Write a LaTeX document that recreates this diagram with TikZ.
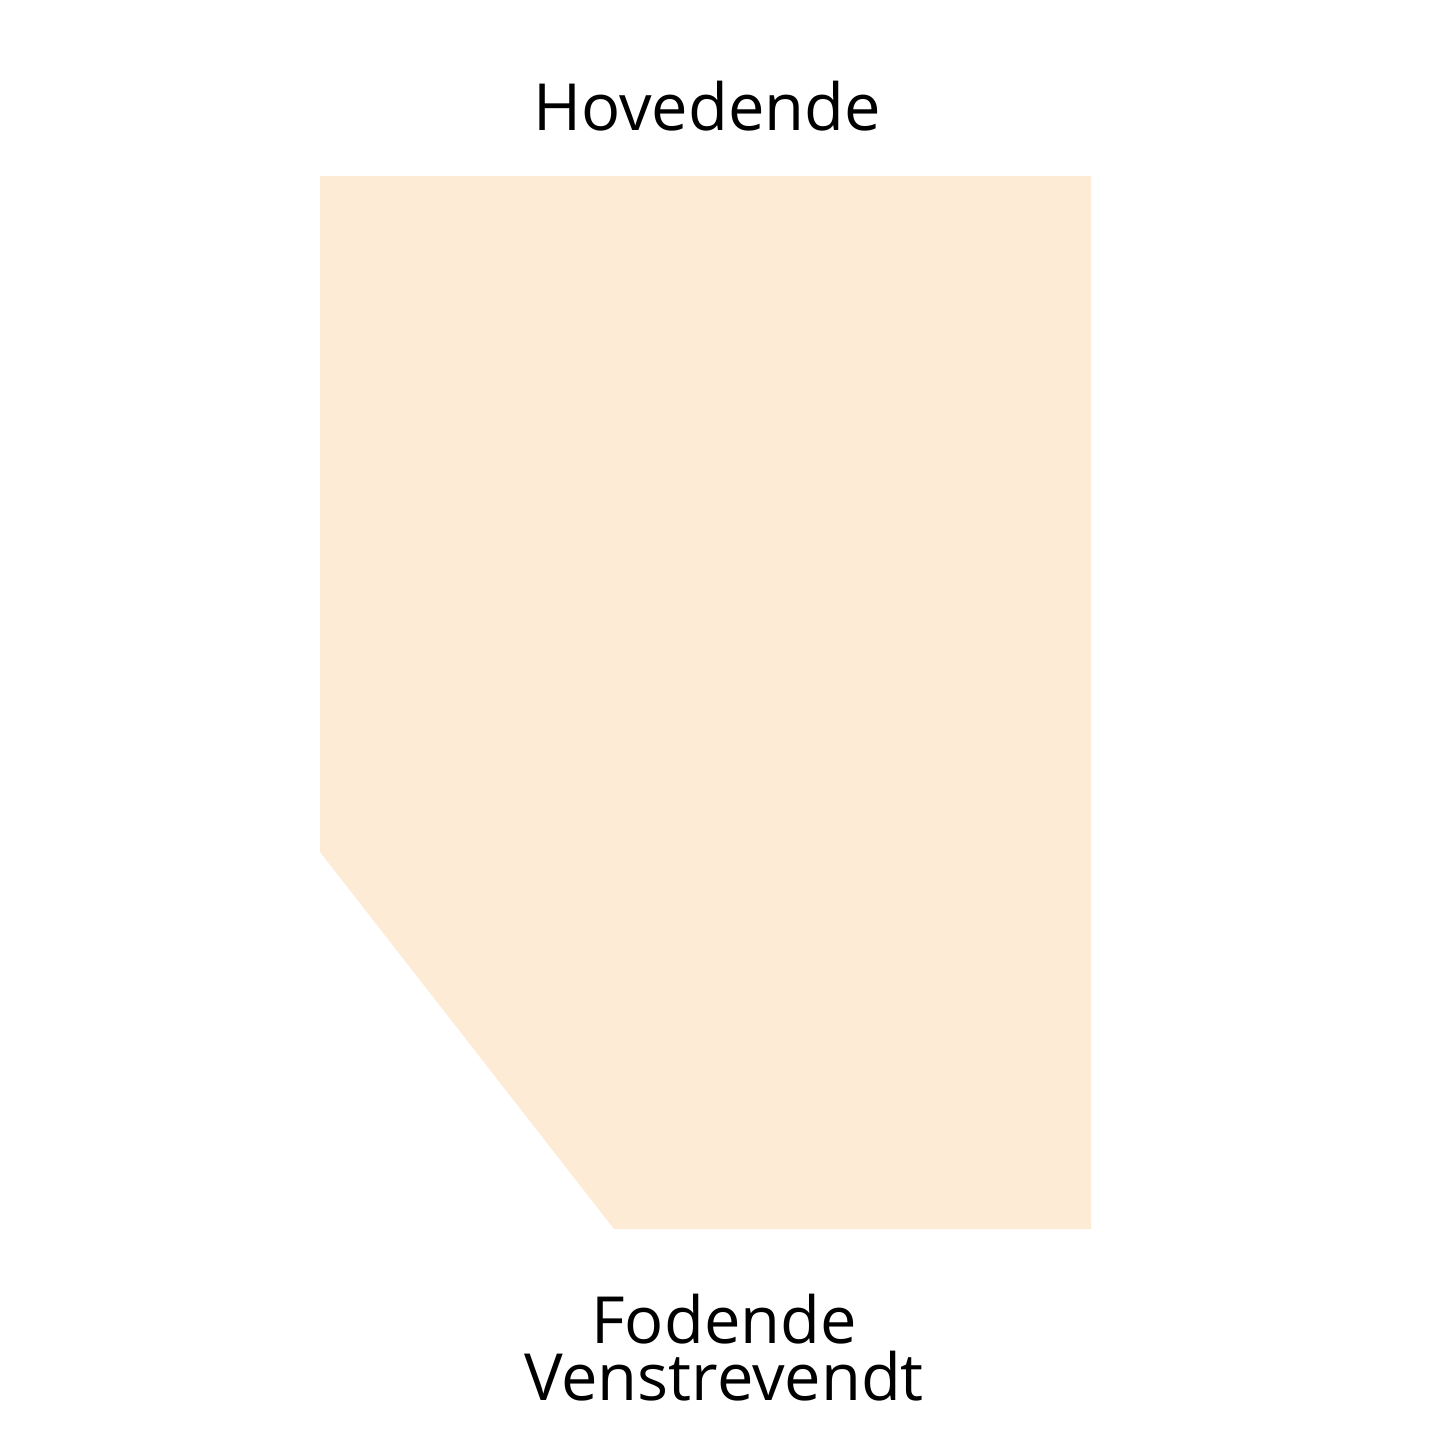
\documentclass[tikz,border=0pt]{standalone}
\usepackage{fontspec}
\setmainfont{Open Sans}
\usetikzlibrary{positioning}
\definecolor{peach}{HTML}{FEEBD6}

\begin{document}
\begin{tikzpicture}[x=1pt, y=-1pt,
        label text/.style={font=\fontsize{65}{57}\selectfont, align=center, inner sep=0pt}]
        % ramme
        \useasboundingbox (0,0) rectangle (1445,1445);
        % madrasform
        \fill[peach] (320,176) -- (1091,176) -- (1091,1229) -- (614,1229) -- (320,852) -- cycle;
        % tekster
        \node[label text, anchor=base] (hoved) at (707,130) {Hovedende};
        \node[label text, anchor=base] (fod) at (724,1400) {Fodende\\Venstrevendt};
    \end{tikzpicture}
\end{document}
